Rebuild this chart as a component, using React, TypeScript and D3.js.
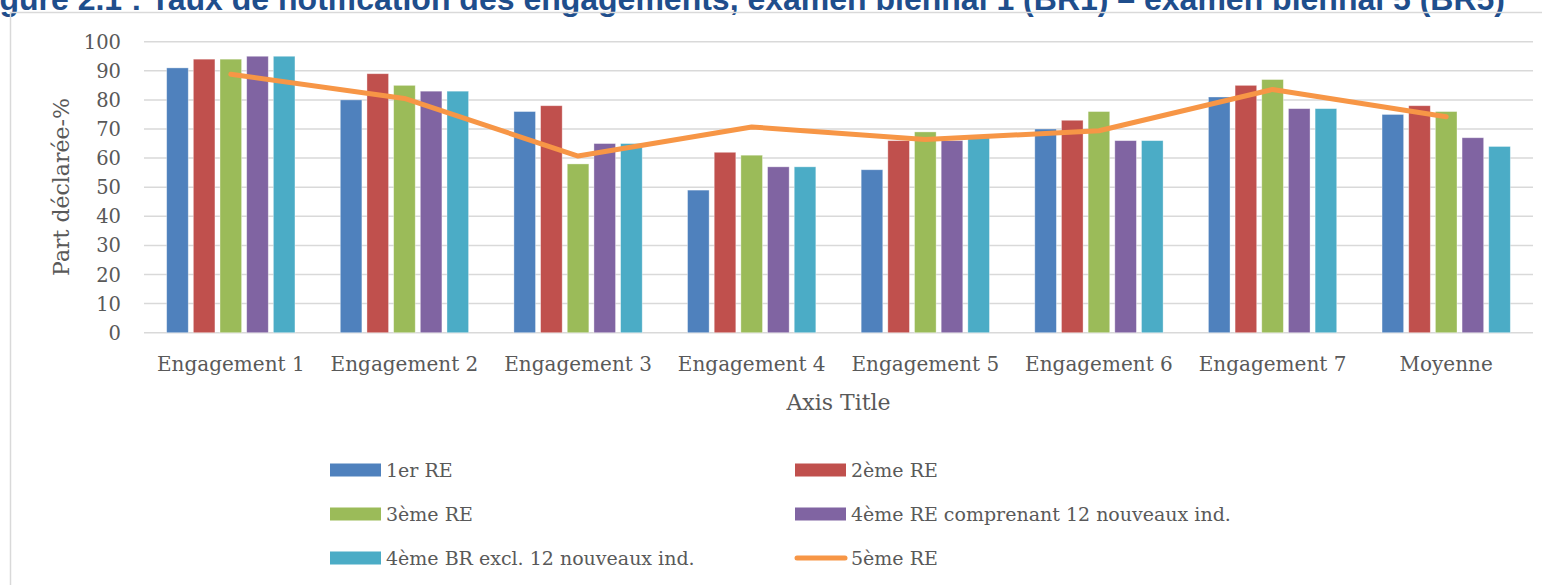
import React from "react";
import * as d3 from "d3";

const title = "Figure 2.1 : Taux de notification des engagements, examen biennal 1 (BR1) – examen biennal 5 (BR5)";
const categories = ["Engagement 1", "Engagement 2", "Engagement 3", "Engagement 4", "Engagement 5", "Engagement 6", "Engagement 7", "Moyenne"];
const barSeriesNames = ["1er RE", "2ème RE", "3ème RE", "4ème RE comprenant 12 nouveaux ind.", "4ème BR excl. 12 nouveaux ind."];
const re1 = [91, 80, 76, 49, 56, 70, 81, 75];
const re2 = [94, 89, 78, 62, 66, 73, 85, 78];
const re3 = [94, 85, 58, 61, 69, 76, 87, 76];
const re4incl = [95, 83, 65, 57, 66, 66, 77, 67];
const re4excl = [95, 83, 65, 57, 67, 66, 77, 64];
const lineName = "5ème RE";
const re5 = [88.8, 80.5, 60.7, 70.7, 66.4, 69.4, 83.6, 74.2];
const yTicks = [0, 10, 20, 30, 40, 50, 60, 70, 80, 90, 100];
const barColors = ["#4F81BD", "#C0504D", "#9BBB59", "#8064A2", "#4BACC6"];
const lineColor = "#F79646";

const W = 1542;
const H = 585;
const serif = "'DejaVu Serif', serif";
const textColor = "#595959";

export default function App() {
  const barSeries = [re1, re2, re3, re4incl, re4excl];
  const x0 = d3.scaleBand<string>().domain(categories).range([144, 1533]).paddingInner(0).paddingOuter(0);
  const bw0 = x0.bandwidth();
  const groupW = 128.3;
  const off = (bw0 - groupW) / 2;
  const x1 = d3
    .scaleBand<number>()
    .domain(d3.range(barSeries.length))
    .range([off, off + groupW])
    .paddingInner(0.19)
    .paddingOuter(0);
  const y = d3.scaleLinear().domain([0, 100]).range([332.7, 41.7]);
  const lineGen = d3
    .line<number>()
    .x((_, i) => (x0(categories[i]) as number) + bw0 / 2)
    .y((d) => y(d));

  const legendItems = [
    { name: barSeriesNames[0], color: barColors[0], type: "bar" },
    { name: barSeriesNames[1], color: barColors[1], type: "bar" },
    { name: barSeriesNames[2], color: barColors[2], type: "bar" },
    { name: barSeriesNames[3], color: barColors[3], type: "bar" },
    { name: barSeriesNames[4], color: barColors[4], type: "bar" },
    { name: lineName, color: lineColor, type: "line" },
  ];
  const legendColX = [330, 795];
  const legendRowY = [470, 514, 558];

  return (
    <svg width={W} height={H} style={{ position: "absolute", left: 0, top: 0, background: "#fff" }}>
      <rect x={0} y={0} width={W} height={H} fill="#fff" />
      <text x={-29} y={10} fontFamily="'Liberation Sans', Arial, sans-serif" fontWeight="bold" fontSize={32} fill="#1F4E8C">
        {title}
      </text>
      <rect x={10.5} y={12.5} width={W} height={H} fill="none" stroke="#D9D9D9" strokeWidth={1.5} />
      {yTicks.map((t) => (
        <g key={t}>
          <line x1={144} x2={1533} y1={y(t)} y2={y(t)} stroke="#D9D9D9" strokeWidth={1.5} />
          <text x={121} y={y(t)} dy="0.36em" textAnchor="end" fontFamily={serif} fontSize={19.5} fill={textColor}>
            {t}
          </text>
        </g>
      ))}
      {categories.map((c, ci) => (
        <g key={c} transform={`translate(${x0(c)},0)`}>
          {barSeries.map((s, si) => (
            <rect
              key={si}
              x={x1(si)}
              y={y(s[ci])}
              width={x1.bandwidth()}
              height={y(0) - y(s[ci])}
              fill={barColors[si]}
              stroke="#ffffff"
              strokeOpacity={0.45}
              strokeWidth={0.8}
            />
          ))}
          <text x={bw0 / 2} y={371} textAnchor="middle" fontFamily={serif} fontSize={20} fill={textColor}>
            {c}
          </text>
        </g>
      ))}
      <path d={lineGen(re5) || ""} fill="none" stroke={lineColor} strokeWidth={5} strokeLinejoin="round" strokeLinecap="round" />
      <text x={838.5} y={410} textAnchor="middle" fontFamily={serif} fontSize={22} fill={textColor}>
        Axis Title
      </text>
      <text
        transform={`translate(61,187) rotate(-90)`}
        dy="0.35em"
        textAnchor="middle"
        fontFamily={serif}
        fontSize={22}
        fill={textColor}
      >
        Part déclarée-%
      </text>
      {legendItems.map((it, i) => {
        const lx = legendColX[i % 2];
        const ly = legendRowY[Math.floor(i / 2)];
        return (
          <g key={it.name}>
            {it.type === "bar" ? (
              <rect x={lx} y={ly - 6.5} width={51} height={13} fill={it.color} />
            ) : (
              <line x1={lx + 2} x2={lx + 50} y1={ly} y2={ly} stroke={it.color} strokeWidth={5} strokeLinecap="round" />
            )}
            <text x={lx + 56} y={ly} dy="0.36em" fontFamily={serif} fontSize={19} fill={textColor}>
              {it.name}
            </text>
          </g>
        );
      })}
    </svg>
  );
}
